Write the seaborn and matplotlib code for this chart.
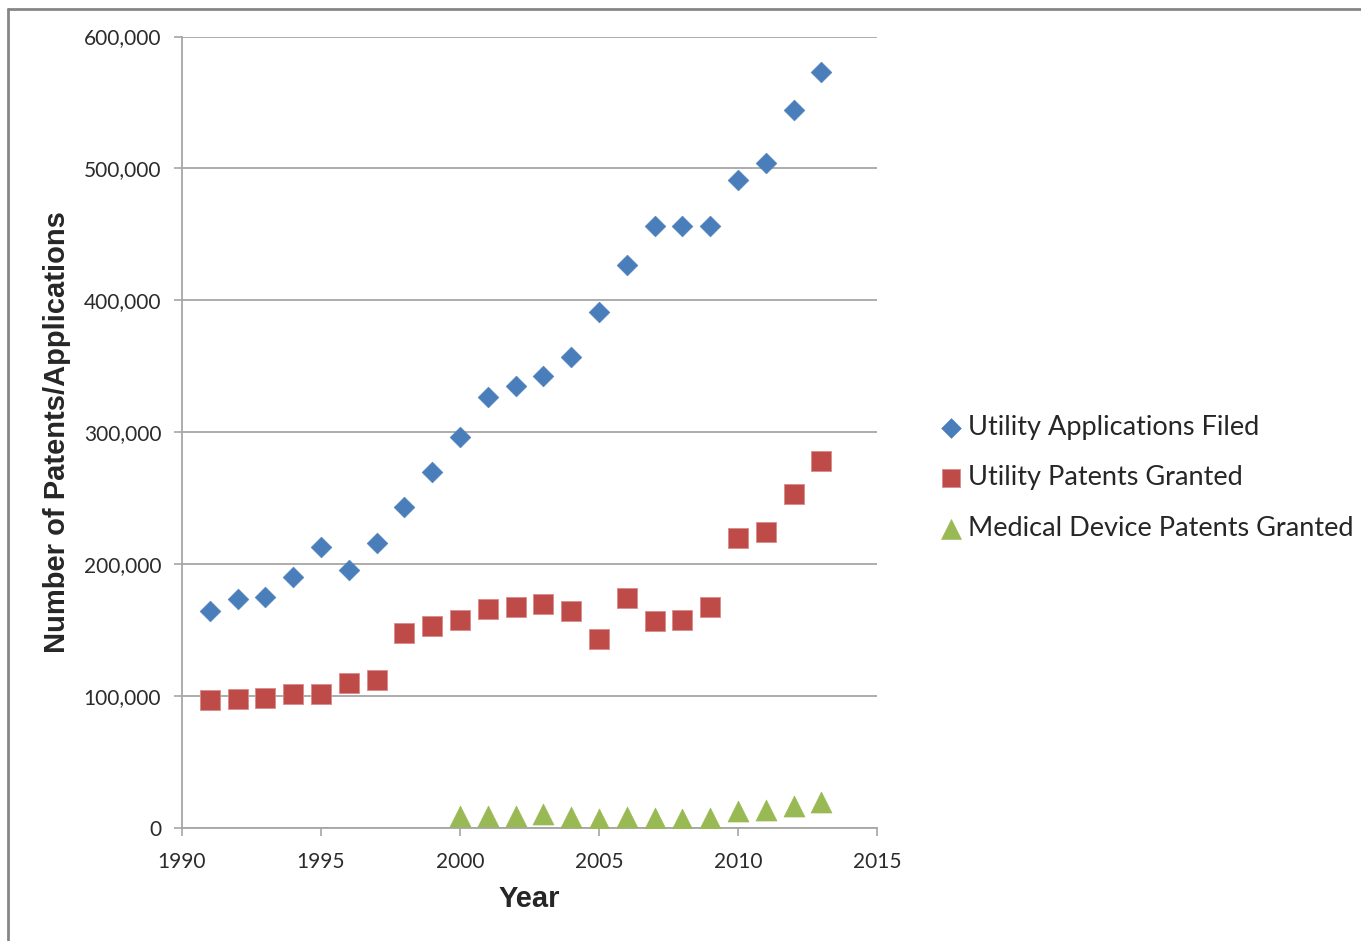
import matplotlib
matplotlib.use("Agg")
import matplotlib.pyplot as plt
from matplotlib.lines import Line2D
from matplotlib.ticker import FuncFormatter, MultipleLocator
import pandas as pd
import seaborn as sns

# Yearly counts
years = [1991, 1992, 1993, 1994, 1995, 1996, 1997, 1998, 1999, 2000, 2001, 2002,
         2003, 2004, 2005, 2006, 2007, 2008, 2009, 2010, 2011, 2012, 2013]
applications_filed = [164300, 173400, 175100, 190300, 212800, 195600, 215600, 243400,
                      270000, 296500, 326900, 335000, 342800, 357200, 391400, 426300,
                      456600, 456600, 456600, 490800, 504400, 543900, 572700]
patents_granted = [96700, 97500, 98500, 101000, 101000, 109400, 111900, 147800,
                   153100, 157400, 165800, 167500, 169300, 164000, 143300, 173900,
                   156700, 157400, 167500, 219400, 224000, 252800, 278100]
med_years = [2000, 2001, 2002, 2003, 2004, 2005, 2006, 2007, 2008, 2009, 2010, 2011,
             2012, 2013]
med_device_granted = [9100, 9100, 9100, 10200, 8200, 6600, 8200, 7300, 6600, 7300,
                      12600, 13600, 16200, 19000]

series_names = ["Utility Applications Filed", "Utility Patents Granted",
                "Medical Device Patents Granted"]

sns.set_style("white")
plt.rcParams["font.family"] = ["Lato", "DejaVu Sans"]

df_apps = pd.DataFrame({"year": years, "count": applications_filed})
df_pat = pd.DataFrame({"year": years, "count": patents_granted})
df_med = pd.DataFrame({"year": med_years, "count": med_device_granted})

W, H = 1361, 941
fig = plt.figure(figsize=(W / 100, H / 100), dpi=100)
ax = fig.add_axes([182 / W, (H - 827.5) / H, (877 - 182) / W, (827.5 - 36.5) / H])

blue, red, green = "#4A7EBB", "#BE4B48", "#98B954"
sns.scatterplot(data=df_apps, x="year", y="count", ax=ax, marker="D", s=112,
                color=blue, edgecolor=blue, linewidth=0.4, label=series_names[0],
                zorder=3)
sns.scatterplot(data=df_pat, x="year", y="count", ax=ax, marker="s", s=200,
                color=red, edgecolor="#D98C8A", linewidth=0.6, label=series_names[1],
                zorder=3)
sns.scatterplot(data=df_med, x="year", y="count", ax=ax, marker="^", s=230,
                color=green, edgecolor=green, linewidth=0.4, label=series_names[2],
                zorder=3)

ax.set_xlim(1990, 2015)
ax.set_ylim(0, 600000)
ax.xaxis.set_major_locator(MultipleLocator(5))
ax.yaxis.set_major_locator(MultipleLocator(100000))
ax.yaxis.set_major_formatter(FuncFormatter(lambda v, p: f"{int(v):,}"))

grid_c = "#A6A6A6"
ax.yaxis.grid(True, color=grid_c, linewidth=1.3, zorder=0)
ax.xaxis.grid(False)
ax.set_axisbelow(True)
for side in ("top", "right"):
    ax.spines[side].set_visible(False)
for side in ("left", "bottom"):
    ax.spines[side].set_color(grid_c)
    ax.spines[side].set_linewidth(1.3)

ax.tick_params(axis="both", direction="out", length=6, width=1.2, color=grid_c,
               labelsize=15, labelcolor="#2B2B2B")
ax.tick_params(axis="y", pad=9, left=True)
ax.tick_params(axis="x", pad=12, bottom=True)

ax.set_xlabel("Year", fontsize=21, fontweight="bold", family=["Liberation Sans"],
              labelpad=9)
ax.set_ylabel("Number of Patents/Applications", fontsize=21, fontweight="bold",
              family=["Liberation Sans"], labelpad=9)

ax.legend(loc="center left", bbox_to_anchor=(941 / W, 1 - 478 / H),
          bbox_transform=fig.transFigure, frameon=False, fontsize=19.5,
          markerscale=0.95, handlelength=0.74, handletextpad=0.24,
          labelspacing=0.95, borderpad=0, borderaxespad=0)

# Outer chart frame (left and top edges)
border = "#868686"
fig.add_artist(Line2D([7.5 / W, 7.5 / W], [0, 1 - 8.5 / H], transform=fig.transFigure,
                      color=border, linewidth=2))
fig.add_artist(Line2D([7.5 / W, 1], [1 - 8.5 / H, 1 - 8.5 / H],
                      transform=fig.transFigure, color=border, linewidth=2))

fig.savefig("out.png", dpi=100, facecolor="white")
